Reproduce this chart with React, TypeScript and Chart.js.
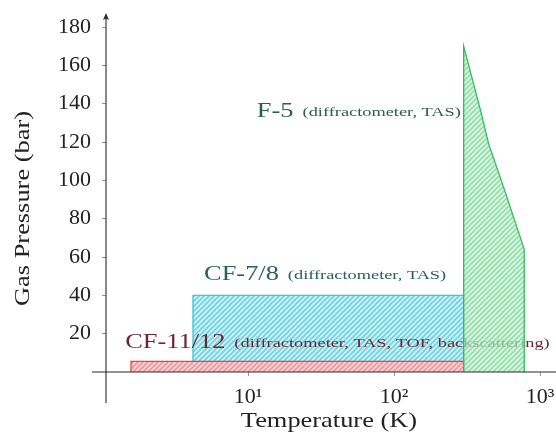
import { useEffect, useRef } from "react";
import { Chart, registerables } from "chart.js";

Chart.register(...registerables);

// ---- data ----
const xTickValues = [10, 100, 1000];
const xTickLabels = ["10¹", "10²", "10³"];
const yTickValues = [20, 40, 60, 80, 100, 120, 140, 160, 180];

const cf11Temp = [1.58, 1.58, 300, 300];
const cf11Pressure = [0, 5.5, 5.5, 0];

const cf7Temp = [4.2, 4.2, 300, 300];
const cf7Pressure = [0, 40, 40, 0];

const f5Temp = [300, 300, 390, 445, 560, 780, 780];
const f5Pressure = [0, 170, 137, 119, 97, 64, 0];

const labelNames = ["F-5", "CF-7/8", "CF-11/12"];
const labelDetails = [
  "(diffractometer, TAS)",
  "(diffractometer, TAS)",
  "(diffractometer, TAS, TOF, backscattering)",
];
const labelTemp = [11.5, 5.0, 1.44];
const labelPressure = [133, 48, 12.5];
const labelColors = ["#2b5e4f", "#28605a", "#6e2434"];

const xTitle = "Temperature (K)";
const yTitle = "Gas Pressure (bar)";

const FONT = "'Liberation Serif', 'Times New Roman', serif";

function hatch(bg: string, line: string, size = 5, width = 1.4) {
  const c = document.createElement("canvas");
  c.width = size;
  c.height = size;
  const g = c.getContext("2d")!;
  g.fillStyle = bg;
  g.fillRect(0, 0, size, size);
  g.strokeStyle = line;
  g.lineWidth = width;
  g.beginPath();
  g.moveTo(-1, size + 1);
  g.lineTo(size + 1, -1);
  g.moveTo(-1, 1);
  g.lineTo(1, -1);
  g.moveTo(size - 1, size + 1);
  g.lineTo(size + 1, size - 1);
  g.stroke();
  return g.createPattern(c, "repeat")!;
}

function stretchText(
  ctx: CanvasRenderingContext2D,
  text: string,
  x: number,
  y: number,
  sx: number,
  align: CanvasTextAlign
) {
  ctx.save();
  ctx.translate(x, y);
  ctx.scale(sx, 1);
  ctx.textAlign = align;
  ctx.textBaseline = "alphabetic";
  ctx.fillText(text, 0, 0);
  const w = ctx.measureText(text).width * sx;
  ctx.restore();
  return w;
}

export default function App() {
  const ref = useRef<HTMLCanvasElement>(null);

  useEffect(() => {
    const canvas = ref.current!;
    const toPts = (xs: number[], ys: number[]) => xs.map((x, i) => ({ x, y: ys[i] }));

    const annot = {
      id: "annot",
      afterDatasetDraw(chart: any, args: any) {
        if (args.index !== 0) return;
        const ctx = chart.ctx as CanvasRenderingContext2D;
        const xs = chart.scales.x;
        const ys = chart.scales.y;
        labelNames.forEach((name, i) => {
          const px = xs.getPixelForValue(labelTemp[i]);
          const py = ys.getPixelForValue(labelPressure[i]);
          ctx.save();
          ctx.fillStyle = labelColors[i];
          ctx.font = `22px ${FONT}`;
          const w = stretchText(ctx, name, px, py, 1.2, "left");
          ctx.font = `13px ${FONT}`;
          stretchText(ctx, labelDetails[i], px + w + 9, py - 1, 1.41, "left");
          ctx.restore();
        });
      },
      afterDatasetsDraw(chart: any) {
        const ctx = chart.ctx as CanvasRenderingContext2D;
        const a = chart.chartArea;
        const y0 = chart.scales.y.getPixelForValue(0);
        ctx.save();
        ctx.strokeStyle = "#2a2a2a";
        ctx.lineWidth = 1.1;
        ctx.beginPath();
        ctx.moveTo(a.left - 14, y0);
        ctx.lineTo(a.right + 10, y0);
        ctx.moveTo(a.left, a.bottom + 31);
        ctx.lineTo(a.left, a.top + 2);
        ctx.stroke();
        ctx.fillStyle = "#2a2a2a";
        ctx.beginPath();
        ctx.moveTo(a.left, a.top - 1);
        ctx.lineTo(a.left - 3, a.top + 6);
        ctx.lineTo(a.left, a.top + 4.5);
        ctx.lineTo(a.left + 3, a.top + 6);
        ctx.closePath();
        ctx.fill();
        ctx.restore();
      },
      afterDraw(chart: any) {
        const ctx = chart.ctx as CanvasRenderingContext2D;
        const a = chart.chartArea;
        ctx.save();
        ctx.fillStyle = "#222";
        ctx.font = `22px ${FONT}`;
        stretchText(ctx, xTitle, (a.left - 14 + a.right + 10) / 2, a.bottom + 55, 1.2, "center");
        ctx.translate(29, (a.top + a.bottom + 31) / 2);
        ctx.rotate(-Math.PI / 2);
        stretchText(ctx, yTitle, 0, 0, 1.2, "center");
        ctx.restore();
      },
    };

    const tickFont = { family: FONT, size: 22 };

    const chart = new Chart(canvas, {
      type: "line",
      data: {
        datasets: [
          {
            label: "CF-11/12",
            data: toPts(cf11Temp, cf11Pressure),
            borderColor: "#e2434f",
            backgroundColor: hatch("#fbd3d4", "#f08a92"),
            fill: "origin",
            order: 2,
          },
          {
            label: "CF-7/8",
            data: toPts(cf7Temp, cf7Pressure),
            borderColor: "#3cc6d6",
            backgroundColor: hatch("#cdf2f6", "#70d3e0", 5, 1.6),
            fill: "origin",
            order: 3,
          },
          {
            label: "F-5",
            data: toPts(f5Temp, f5Pressure),
            borderColor: "#2fbf5c",
            backgroundColor: hatch("rgba(200,240,212,0.65)", "rgba(110,210,140,0.65)", 5, 1.6),
            fill: "origin",
            order: 1,
          },
        ],
      } as any,
      options: {
        animation: false,
        responsive: false,
        devicePixelRatio: 1,
        layout: { padding: { top: 14, left: 0, right: 0, bottom: 0 } },
        plugins: { legend: { display: false }, tooltip: { enabled: false } },
        elements: {
          point: { radius: 0, hoverRadius: 0 },
          line: { tension: 0, borderWidth: 1.3 },
        },
        scales: {
          x: {
            type: "logarithmic",
            min: 1.065,
            max: 1287,
            afterBuildTicks: (s: any) => {
              s.ticks = xTickValues.map((v) => ({ value: v }));
            },
            afterFit: (s: any) => {
              s.height = 69;
              s.paddingLeft = 0;
              s.paddingRight = 0;
              s.paddingTop = 0;
              s.paddingBottom = 0;
            },
            ticks: {
              callback: (_v: any, i: number) => xTickLabels[i],
              font: tickFont,
              color: "#222",
              padding: 8,
              autoSkip: false,
              maxRotation: 0,
            },
            grid: { drawOnChartArea: false, drawTicks: true, tickLength: 4, color: "#999" },
            border: { display: false },
          },
          y: {
            type: "linear",
            min: 0,
            max: 186.8,
            afterBuildTicks: (s: any) => {
              s.ticks = yTickValues.map((v) => ({ value: v }));
            },
            afterFit: (s: any) => {
              s.width = 106;
              s.paddingLeft = 0;
              s.paddingRight = 0;
              s.paddingTop = 0;
              s.paddingBottom = 0;
            },
            ticks: {
              callback: (v: any) => String(v),
              font: tickFont,
              color: "#222",
              padding: 11,
            },
            grid: { drawOnChartArea: false, drawTicks: true, tickLength: 4, color: "#999" },
            border: { display: false },
          },
        },
      } as any,
      plugins: [annot],
    });

    return () => chart.destroy();
  }, []);

  return (
    <div style={{ position: "fixed", left: 0, top: 0, width: 556, height: 441, background: "#fff" }}>
      <canvas ref={ref} width={556} height={441} style={{ display: "block" }} />
    </div>
  );
}
